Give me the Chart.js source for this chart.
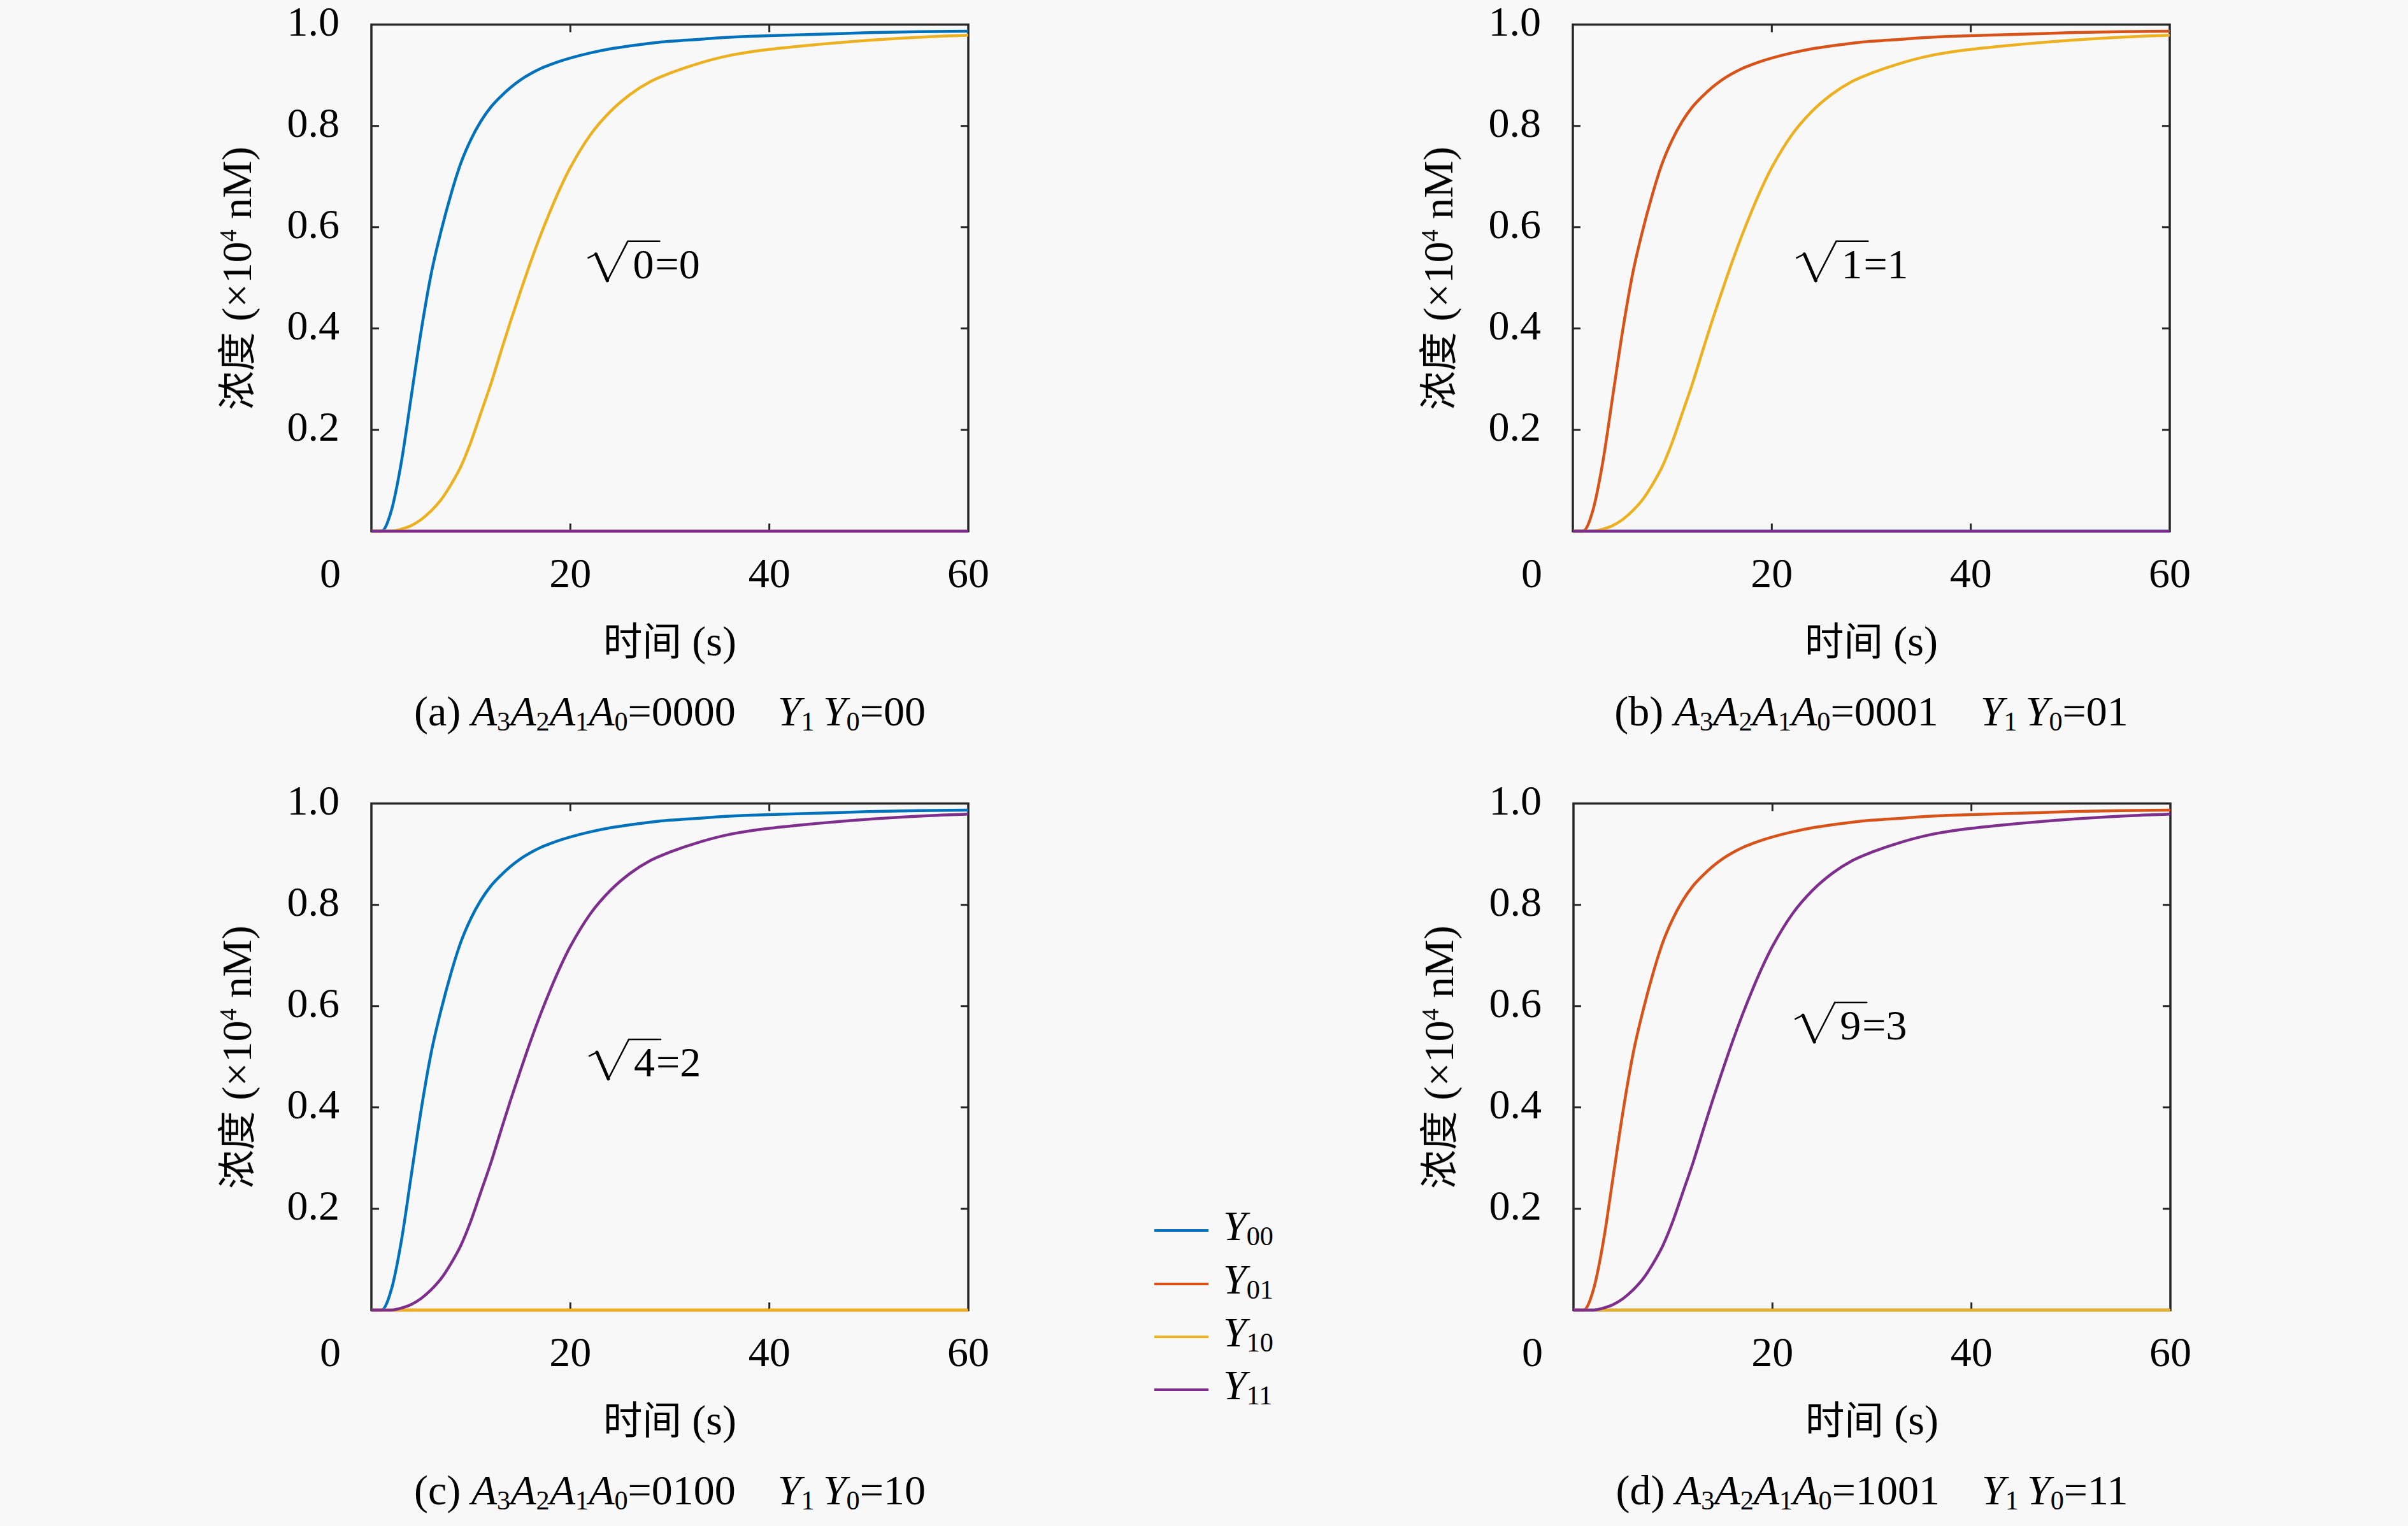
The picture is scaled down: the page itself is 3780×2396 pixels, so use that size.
<!DOCTYPE html>
<html>
<head>
<meta charset="utf-8">
<script src="https://cdn.jsdelivr.net/npm/chart.js@4.4.1/dist/chart.umd.min.js"></script>
<style>
  html, body { margin: 0; padding: 0; background: #f8f8f8; }
  #page { position: relative; width: 3780px; height: 2396px; overflow: hidden;
          font-family: "Liberation Serif", "Tinos", "Times New Roman", "DejaVu Serif", "Noto Sans CJK SC", serif; color: #000; }
  .txt { position: absolute; white-space: nowrap; font-size: 66px; line-height: 66px; }
  canvas { position: absolute; }
  sub { font-size: 0.64em; vertical-align: -0.2em; line-height: 0; }
  sup { font-size: 0.58em; vertical-align: 0.6em; line-height: 0; }
  .cjk { font-family: "Noto Sans CJK SC", sans-serif; font-size: 0.93em; }
  .leg-line { position: absolute; height: 4px; }
</style>
</head>
<body>
<div id="page"></div>
<script>
// time axis (s)
const timeS = [0, 1, 2, 3, 4, 5, 6, 7, 8, 9, 10, 11, 12, 13, 14, 15, 16, 17, 18, 19, 20, 22, 24, 26, 28, 30, 33, 36, 40, 45, 50, 55, 60];

// concentration (x10^4 nM)
const fastRise = [0, 0, 0.04, 0.135, 0.265, 0.395, 0.507, 0.592, 0.665, 0.727, 0.773, 0.809, 0.837, 0.858, 0.876, 0.891, 0.903,
                  0.913, 0.921, 0.928, 0.934, 0.944, 0.952, 0.958, 0.963, 0.967, 0.971, 0.975, 0.978, 0.981, 0.984, 0.986, 0.987];
const slowRise = [0, 0, 0, 0.004, 0.011, 0.023, 0.04, 0.062, 0.092, 0.128, 0.176, 0.233, 0.29, 0.353, 0.415, 0.474, 0.531,
                  0.584, 0.633, 0.678, 0.718, 0.782, 0.828, 0.862, 0.887, 0.904, 0.924, 0.939, 0.951, 0.961, 0.969, 0.975, 0.979];
const noRise = [0, 0, 0, 0, 0, 0, 0, 0, 0, 0, 0, 0, 0, 0, 0, 0, 0,
                0, 0, 0, 0, 0, 0, 0, 0, 0, 0, 0, 0, 0, 0, 0, 0];

// series Y00, Y01, Y10, Y11 for each panel
const seriesNames = ['00', '01', '10', '11'];
const seriesColors = ['#0072BD', '#D95319', '#EDB120', '#7E2F8E'];
const panelA = [fastRise, noRise, slowRise, noRise];
const panelB = [noRise, fastRise, slowRise, noRise];
const panelC = [fastRise, noRise, noRise, slowRise];
const panelD = [noRise, fastRise, noRise, slowRise];

// captions and annotations
const panelLetters = ['a', 'b', 'c', 'd'];
const inputBits = ['0000', '0001', '0100', '1001'];
const outputBits = ['00', '01', '10', '11'];
const roots = ['0', '1', '4', '9'];
const rootResults = ['0', '1', '2', '3'];
const noteAt = [[21.8, 0.527], [22.5, 0.527], [21.9, 0.489], [22.3, 0.562]];

const xTicks = [0, 20, 40, 60];
const yTicks = [0, 0.2, 0.4, 0.6, 0.8, 1.0];

// layout
const plotW = 937, plotH = 795;
const panelPos = [[583, 39], [2469, 39], [583, 1262], [2470, 1262]];
const padL = 300, padT = 40, padR = 80, padB = 130;
const serifFont = '"Liberation Serif", "Tinos", "Times New Roman", "DejaVu Serif", serif';

const page = document.getElementById('page');

function addText(html, left, baseline, extra) {
  const d = document.createElement('div');
  d.className = 'txt';
  d.innerHTML = html;
  d.style.left = left + 'px';
  d.style.top = (baseline - 55) + 'px';
  if (extra) Object.assign(d.style, extra);
  page.appendChild(d);
  return d;
}

const decoPlugin = {
  id: 'panelDeco',
  beforeDatasetsDraw(chart) {
    const { ctx, chartArea: a, scales: { x, y } } = chart;
    ctx.save();
    ctx.strokeStyle = '#262626';
    ctx.lineWidth = 3.5;
    ctx.strokeRect(a.left, a.top, a.right - a.left, a.bottom - a.top);
    ctx.lineWidth = 3;
    ctx.beginPath();
    x.ticks.forEach(t => {
      if (t.value <= x.min || t.value >= x.max) return;
      const px = x.getPixelForValue(t.value);
      ctx.moveTo(px, a.bottom); ctx.lineTo(px, a.bottom - 12);
      ctx.moveTo(px, a.top); ctx.lineTo(px, a.top + 12);
    });
    y.ticks.forEach(t => {
      if (t.value <= y.min || t.value >= y.max) return;
      const py = y.getPixelForValue(t.value);
      ctx.moveTo(a.left, py); ctx.lineTo(a.left + 12, py);
      ctx.moveTo(a.right, py); ctx.lineTo(a.right - 12, py);
    });
    ctx.stroke();
    ctx.restore();
  },
  afterDraw(chart, args, opts) {
    const { ctx, chartArea: a, scales: { x, y } } = chart;
    ctx.save();
    ctx.fillStyle = '#000';
    ctx.font = '66px ' + serifFont;
    // shared origin label
    ctx.textAlign = 'right';
    ctx.textBaseline = 'middle';
    ctx.fillText('0', a.left - 48, a.bottom + 71);

    // sqrt annotation
    const px = x.getPixelForValue(opts.t);
    const cy = y.getPixelForValue(opts.v);
    ctx.strokeStyle = '#000';
    ctx.lineCap = 'round';
    ctx.lineWidth = 2.5;
    ctx.beginPath();
    ctx.moveTo(px, cy - 10);
    ctx.lineTo(px + 12, cy - 16);
    ctx.stroke();
    ctx.lineWidth = 5;
    ctx.beginPath();
    ctx.moveTo(px + 12, cy - 16);
    ctx.lineTo(px + 30, cy + 26);
    ctx.stroke();
    ctx.lineWidth = 2.5;
    ctx.beginPath();
    ctx.moveTo(px + 30, cy + 26);
    ctx.lineTo(px + 62, cy - 36);
    ctx.lineTo(px + 112, cy - 36);
    ctx.stroke();
    ctx.textAlign = 'left';
    ctx.textBaseline = 'alphabetic';
    ctx.fillText(opts.root, px + 70, cy + 22);
    const w = ctx.measureText(opts.root).width;
    ctx.fillText('=' + opts.result, px + 72 + w, cy + 22);
    ctx.restore();
  }
};

function makeConfig(series, p) {
  return {
    type: 'line',
    data: {
      datasets: seriesNames.map((name, k) => ({
        label: 'Y' + name,
        data: timeS.map((t, i) => ({ x: t, y: series[k][i] })),
        borderColor: seriesColors[k],
        borderWidth: 4.5,
        pointRadius: 0,
        cubicInterpolationMode: 'monotone',
        fill: false,
        clip: false,
        order: 3 - k
      }))
    },
    options: {
      responsive: false,
      maintainAspectRatio: false,
      animation: false,
      devicePixelRatio: 1,
      layout: { padding: { top: padT, right: padR, left: 0, bottom: 0 } },
      plugins: {
        legend: { display: false },
        tooltip: { enabled: false },
        panelDeco: { t: noteAt[p][0], v: noteAt[p][1], root: roots[p], result: rootResults[p] }
      },
      scales: {
        x: {
          type: 'linear',
          min: xTicks[0],
          max: xTicks[xTicks.length - 1],
          border: { display: false },
          grid: { display: false, drawTicks: false },
          afterBuildTicks: s => { s.ticks = xTicks.map(v => ({ value: v })); },
          ticks: {
            autoSkip: false,
            maxRotation: 0,
            padding: 31,
            color: '#000',
            font: { family: serifFont, size: 66 },
            callback: v => (v === 0 ? '' : String(v))
          },
          afterFit: s => { s.height = padB; }
        },
        y: {
          min: yTicks[0],
          max: yTicks[yTicks.length - 1],
          border: { display: false },
          grid: { display: false, drawTicks: false },
          afterBuildTicks: s => { s.ticks = yTicks.map(v => ({ value: v })); },
          ticks: {
            autoSkip: false,
            padding: 50,
            color: '#000',
            font: { family: serifFont, size: 66 },
            callback: v => (v === 0 ? '' : Number(v).toFixed(1))
          },
          afterFit: s => { s.width = padL; }
        }
      }
    },
    plugins: [decoPlugin]
  };
}

const panelSeries = [panelA, panelB, panelC, panelD];

panelSeries.forEach((series, p) => {
  const [left, top] = panelPos[p];
  const canvas = document.createElement('canvas');
  const cw = plotW + padL + padR;
  let ch = plotH + padT + padB;
  canvas.width = cw;
  canvas.height = ch;
  canvas.style.left = (left - padL) + 'px';
  canvas.style.top = (top - padT) + 'px';
  canvas.style.width = cw + 'px';
  canvas.style.height = ch + 'px';
  page.appendChild(canvas);

  let chart = new Chart(canvas, makeConfig(series, p));
  // the library may reserve extra room above the plot for the top tick label;
  // move the canvas so the plot box lands where the reference has it
  const areaTop = Math.round(chart.chartArea.top);
  if (areaTop !== padT) {
    chart.destroy();
    ch = areaTop + plotH + padB;
    canvas.width = cw;
    canvas.height = ch;
    canvas.style.top = (top - areaTop) + 'px';
    canvas.style.width = cw + 'px';
    canvas.style.height = ch + 'px';
    chart = new Chart(canvas, makeConfig(series, p));
  }

  const midX = left + plotW / 2;
  const bottom = top + plotH;

  // y title
  addText('<span class="cjk">浓度</span> (×10<sup>4</sup> nM)', left - 213, 0, {
    top: (top + plotH / 2) + 'px',
    transform: 'translate(-50%, -50%) rotate(-90deg)'
  });
  // x title
  addText('<span class="cjk">时间</span> (s)', midX, bottom + 191, { transform: 'translateX(-50%)' });
  // caption
  addText('(' + panelLetters[p] + ') <i>A</i><sub>3</sub><i>A</i><sub>2</sub><i>A</i><sub>1</sub><i>A</i><sub>0</sub>=' +
          inputBits[p] + '&nbsp;&nbsp;&nbsp;&nbsp;<i>Y</i><sub>1</sub>&thinsp;<i>Y</i><sub>0</sub>=' + outputBits[p],
          midX, bottom + 305, { transform: 'translateX(-50%)' });
});

// legend
const legendY = [1932, 2016, 2099, 2182];
seriesNames.forEach((name, k) => {
  const line = document.createElement('div');
  line.className = 'leg-line';
  line.style.left = '1812px';
  line.style.width = '85px';
  line.style.top = (legendY[k] - 2) + 'px';
  line.style.background = seriesColors[k];
  page.appendChild(line);
  addText('<i>Y</i><sub>' + name + '</sub>', 1920, legendY[k] + 15);
});
</script>
</body>
</html>
